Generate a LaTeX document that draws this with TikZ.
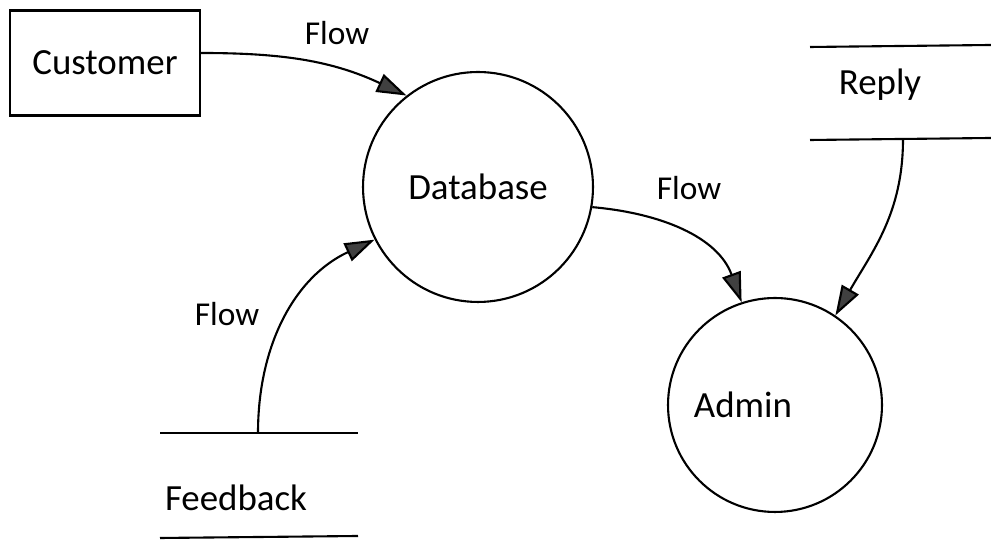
\documentclass[tikz,border=0pt]{standalone}
\usepackage{fontspec}
\setmainfont{Carlito}
\usetikzlibrary{arrows.meta}

\begin{document}
\begin{tikzpicture}[x=0.02cm, y=0.02cm, font=\fontsize{21}{25}\selectfont,
    ent/.style={draw, line width=1.2pt, minimum width=3.8cm, minimum height=2.1cm},
    proc/.style={draw, circle, line width=1.2pt, inner sep=0pt},
    flow/.style={line width=1.2pt, -{Triangle[length=17pt,width=11pt,fill=black!75]}},
    lbl/.style={font=\fontsize{19}{23}\selectfont}]
              \useasboundingbox (0,0) rectangle (991,543);
              \node[ent] (cust) at (105,480) {Customer\hspace{0.25cm}};
              \node[proc, minimum size=4.6cm] (db) at (478,356) {Database};
              \node[proc, minimum size=4.28cm, label={[xshift=-0.64cm]center:Admin}] (admin) at (775,138) {};

              % data stores
              \node (reply) at (880,458) {Reply};
              \draw[line width=1.2pt] (810,496) -- (991,498);
              \draw[line width=1.2pt] (810,403) -- (991,405);
              \coordinate (replyout) at (903,404);

              \node (fb) at (236,45) {Feedback};
              \draw[line width=1.2pt] (160,110) -- (358,110);
              \draw[line width=1.2pt] (160,5) -- (358,7);
              \coordinate (fbout) at (258,110);

              \draw[flow] ([yshift=0.2cm]cust.east) to[out=0,in=155] (db.128);
              \draw[flow] (db.-10) to[out=-5,in=110] (admin.108);
              \draw[flow] (replyout) to[out=-90,in=60] (admin.56);
              \draw[flow] (fbout) to[out=90,in=205] (db.207);

              \node[lbl] (f1) at (337,510) {Flow};
              \node[lbl] (f2) at (689,355) {Flow};
              \node[lbl] (f3) at (227,229) {Flow};
            \end{tikzpicture}
\end{document}
